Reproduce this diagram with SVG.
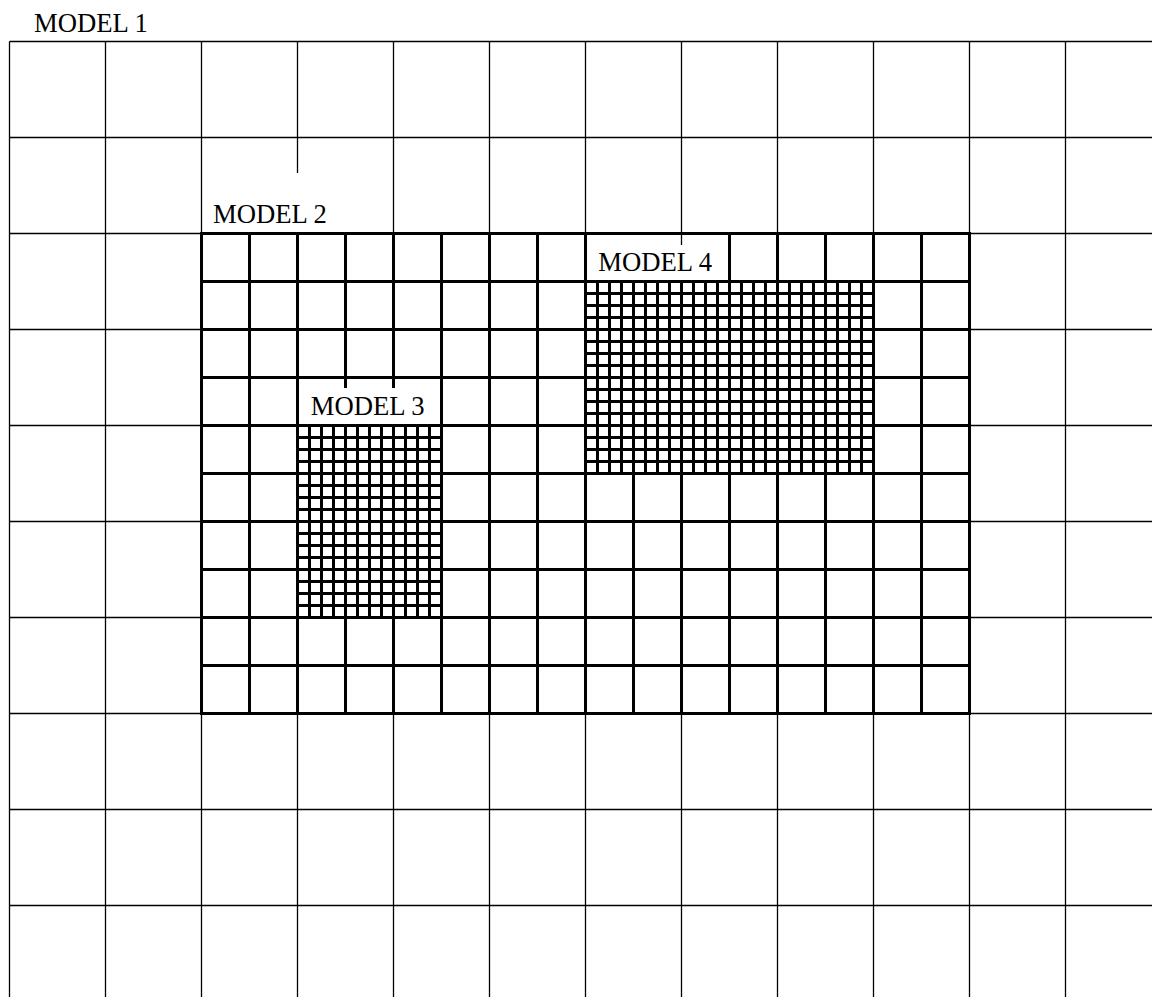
<svg xmlns="http://www.w3.org/2000/svg" width="1152" height="997" viewBox="0 0 1152 997">
<style>
.m1 { stroke: #000; stroke-width: 1.3; fill: none; }
.m2 { stroke: #000; stroke-width: 3; fill: none; stroke-linecap: square; }
.fine { stroke: #000; stroke-width: 3; fill: none; stroke-linecap: square; }
.lblbox { fill: #fff; stroke: none; }
.lbl { font-family: "Liberation Serif", "Times New Roman", serif; font-size: 26.67px; fill: #000; }
</style>
<rect x="0" y="0" width="1152" height="997" fill="#fff"/>
<g id="model1">
<path class="m1" d="M9.5 41.5V997M105.5 41.5V997M201.5 41.5V997M297.5 41.5V997M393.5 41.5V997M489.5 41.5V997M585.5 41.5V997M681.5 41.5V997M777.5 41.5V997M873.5 41.5V997M969.5 41.5V997M1065.5 41.5V997"/>
<path class="m1" d="M9.5 41.5H1152M9.5 137.5H1152M9.5 233.5H1152M9.5 329.5H1152M9.5 425.5H1152M9.5 521.5H1152M9.5 617.5H1152M9.5 713.5H1152M9.5 809.5H1152M9.5 905.5H1152"/>
</g>
<g id="model2">
<rect x="201.5" y="233.5" width="768" height="480" fill="#fff"/>
<path class="m2" d="M201.5 233.5V713.5M249.5 233.5V713.5M297.5 233.5V713.5M345.5 233.5V713.5M393.5 233.5V713.5M441.5 233.5V713.5M489.5 233.5V713.5M537.5 233.5V713.5M585.5 233.5V713.5M633.5 281.5V713.5M681.5 281.5V713.5M729.5 233.5V713.5M777.5 233.5V713.5M825.5 233.5V713.5M873.5 233.5V713.5M921.5 233.5V713.5M969.5 233.5V713.5"/>
<path class="m2" d="M201.5 233.5H969.5M201.5 281.5H969.5M201.5 329.5H969.5M201.5 377.5H969.5M201.5 425.5H969.5M201.5 473.5H969.5M201.5 521.5H969.5M201.5 569.5H969.5M201.5 617.5H969.5M201.5 665.5H969.5M201.5 713.5H969.5"/>
<path class="m1" d="M681.5 233.5V245"/>
</g>
<g id="model3">
<path class="fine" d="M297.5 425.5V617.5M309.5 425.5V617.5M321.5 425.5V617.5M333.5 425.5V617.5M345.5 425.5V617.5M357.5 425.5V617.5M369.5 425.5V617.5M381.5 425.5V617.5M393.5 425.5V617.5M405.5 425.5V617.5M417.5 425.5V617.5M429.5 425.5V617.5M441.5 425.5V617.5"/>
<path class="fine" d="M297.5 425.5H441.5M297.5 437.5H441.5M297.5 449.5H441.5M297.5 461.5H441.5M297.5 473.5H441.5M297.5 485.5H441.5M297.5 497.5H441.5M297.5 509.5H441.5M297.5 521.5H441.5M297.5 533.5H441.5M297.5 545.5H441.5M297.5 557.5H441.5M297.5 569.5H441.5M297.5 581.5H441.5M297.5 593.5H441.5M297.5 605.5H441.5M297.5 617.5H441.5"/>
</g>
<g id="model4">
<path class="fine" d="M585.5 281.5V473.5M597.5 281.5V473.5M609.5 281.5V473.5M621.5 281.5V473.5M633.5 281.5V473.5M645.5 281.5V473.5M657.5 281.5V473.5M669.5 281.5V473.5M681.5 281.5V473.5M693.5 281.5V473.5M705.5 281.5V473.5M717.5 281.5V473.5M729.5 281.5V473.5M741.5 281.5V473.5M753.5 281.5V473.5M765.5 281.5V473.5M777.5 281.5V473.5M789.5 281.5V473.5M801.5 281.5V473.5M813.5 281.5V473.5M825.5 281.5V473.5M837.5 281.5V473.5M849.5 281.5V473.5M861.5 281.5V473.5M873.5 281.5V473.5"/>
<path class="fine" d="M585.5 281.5H873.5M585.5 293.5H873.5M585.5 305.5H873.5M585.5 317.5H873.5M585.5 329.5H873.5M585.5 341.5H873.5M585.5 353.5H873.5M585.5 365.5H873.5M585.5 377.5H873.5M585.5 389.5H873.5M585.5 401.5H873.5M585.5 413.5H873.5M585.5 425.5H873.5M585.5 437.5H873.5M585.5 449.5H873.5M585.5 461.5H873.5M585.5 473.5H873.5"/>
</g>
<g id="labels">
<text class="lbl" x="34" y="32">MODEL 1</text>
<rect class="lblbox" x="203" y="173" width="142" height="59"/>
<text class="lbl" x="213" y="222.7">MODEL 2</text>
<rect class="lblbox" x="299" y="388" width="141" height="36"/>
<text class="lbl" x="310.7" y="415">MODEL 3</text>
<rect class="lblbox" x="587" y="245" width="141" height="35"/>
<text class="lbl" x="598.3" y="270.7">MODEL 4</text>
</g>
</svg>
